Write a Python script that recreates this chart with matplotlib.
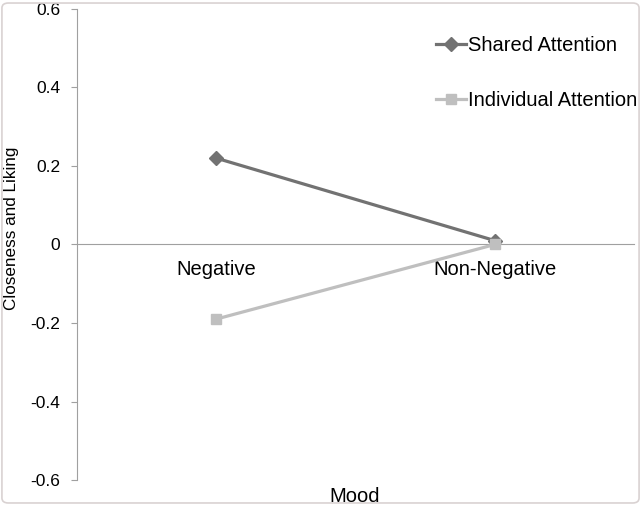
import matplotlib
matplotlib.use("Agg")
import matplotlib.pyplot as plt
from matplotlib.patches import FancyBboxPatch

categories = ["Negative", "Non-Negative"]
shared = [0.22, 0.01]
individual = [-0.19, 0.0]
yticks = [-0.6, -0.4, -0.2, 0, 0.2, 0.4, 0.6]
ytick_labels = ["-0.6", "-0.4", "-0.2", "0", "0.2", "0.4", "0.6"]

plt.rcParams['font.family'] = ['Liberation Sans', 'DejaVu Sans']

fig = plt.figure(figsize=(6.41, 5.05), dpi=100)
ax = fig.add_axes([77/641, 1 - 480/505, (634-77)/641, (480-9)/505])

for s in ["top", "right"]:
    ax.spines[s].set_visible(False)
ax.spines["left"].set_color("#a0a0a0")
ax.spines["bottom"].set_color("#a0a0a0")
ax.spines["bottom"].set_position(("data", 0))

x = list(range(len(categories)))
ax.plot(x, shared, color="#727272", lw=2.3, marker="D", ms=7.2, label="Shared Attention", zorder=3)
ax.plot(x, individual, color="#bfbfbf", lw=2.3, marker="s", ms=6.8, label="Individual Attention", zorder=3)

ax.set_xlim(-0.5, 1.5)
ax.set_ylim(-0.6, 0.6)
ax.set_yticks(yticks)
ax.set_yticklabels(ytick_labels)
ax.set_xticks(x)
ax.set_xticklabels(categories)
ax.tick_params(axis='x', length=0, pad=11.5, labelsize=14.5)
ax.tick_params(axis='y', length=4, color="#a0a0a0", direction='out', pad=8, labelsize=12.5)

ax.set_ylabel("Closeness and Liking", fontsize=12.3)
ax.yaxis.set_label_coords((19-77)/557, (480-228)/471)
fig.text(355/641, 1 - 496/505, "Mood", fontsize=14.5, ha="center", va="center")

ax.legend(loc="upper left", bbox_to_anchor=((436-77)/557, 1 - (36-9)/471), frameon=False,
          fontsize=14.5, handlelength=1.5, handletextpad=0.1, labelspacing=1.8, borderaxespad=0,
          borderpad=0)

border = FancyBboxPatch((0.003, 0.004), 0.994, 0.99, boxstyle="round,pad=0,rounding_size=0.01",
                        transform=fig.transFigure, fill=False, edgecolor="#d9d2d2", lw=1.2)
fig.patches.append(border)

fig.savefig("out.png", dpi=100)
